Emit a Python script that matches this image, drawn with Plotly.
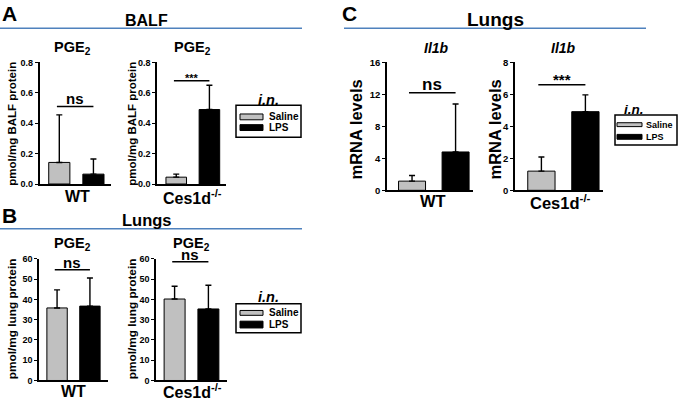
import plotly.graph_objects as go

# ---------------- data ----------------
groups = ["WT", "Ces1d<sup>-/-</sup>"]
treatments = ["Saline", "LPS"]

# Panel A: BALF PGE2 (pmol/mg BALF protein)
balf_saline_mean = [0.142, 0.045]
balf_saline_sd = [0.313, 0.020]
balf_lps_mean = [0.065, 0.490]
balf_lps_sd = [0.100, 0.160]
balf_sig = ["ns", "***"]
balf_sig_y = [0.51, 0.68]

# Panel B: Lung PGE2 (pmol/mg lung protein)
lung_saline_mean = [35.8, 40.2]
lung_saline_sd = [8.9, 6.3]
lung_lps_mean = [36.7, 35.3]
lung_lps_sd = [13.9, 11.7]
lung_sig = ["ns", "ns"]
lung_sig_y = [54.7, 58.6]

# Panel C: Lung Il1b mRNA levels
il1b_saline_mean = [1.15, 1.20]
il1b_saline_sd = [0.70, 0.88]
il1b_lps_mean = [4.80, 4.92]
il1b_lps_sd = [6.00, 1.05]
il1b_sig = ["ns", "***"]
il1b_sig_y = [12.2, 6.6]

balf_ticks = [0, 0.2, 0.4, 0.6, 0.8]
lung_ticks = [0, 10, 20, 30, 40, 50, 60]
il1b_wt_ticks = [0, 4, 8, 12, 16]
il1b_ko_ticks = [0, 2, 4, 6, 8]

# ---------------- layout helpers ----------------
W, H = 678, 403
FONT = "Liberation Sans, Arial, sans-serif"
GREY = "#c0c0c0"
BLUE = "#4f81bd"


def X(px):
    return px / W


def Y(py):
    return 1 - py / H


panels = [
    dict(mean=(balf_saline_mean[0], balf_lps_mean[0]), sd=(balf_saline_sd[0], balf_lps_sd[0]),
         sig=balf_sig[0], sig_y=balf_sig_y[0], ticks=balf_ticks, fmt=".1f",
         xdom=(39.5, 110.5), ydom=(58, 183), xr=(-0.58, 1.5), sigsize=15, ticksize=9),
    dict(mean=(balf_saline_mean[1], balf_lps_mean[1]), sd=(balf_saline_sd[1], balf_lps_sd[1]),
         sig=balf_sig[1], sig_y=balf_sig_y[1], ticks=balf_ticks, fmt=".1f",
         xdom=(157, 226), ydom=(58, 183), xr=(-0.58, 1.5), sigsize=11, ticksize=9),
    dict(mean=(lung_saline_mean[0], lung_lps_mean[0]), sd=(lung_saline_sd[0], lung_lps_sd[0]),
         sig=lung_sig[0], sig_y=lung_sig_y[0], ticks=lung_ticks, fmt="d",
         xdom=(39, 108), ydom=(260, 385), xr=(-0.55, 1.55), sigsize=15, ticksize=9),
    dict(mean=(lung_saline_mean[1], lung_lps_mean[1]), sd=(lung_saline_sd[1], lung_lps_sd[1]),
         sig=lung_sig[1], sig_y=lung_sig_y[1], ticks=lung_ticks, fmt="d",
         xdom=(156, 227), ydom=(260, 385), xr=(-0.55, 1.55), sigsize=15, ticksize=9),
    dict(mean=(il1b_saline_mean[0], il1b_lps_mean[0]), sd=(il1b_saline_sd[0], il1b_lps_sd[0]),
         sig=il1b_sig[0], sig_y=il1b_sig_y[0], ticks=il1b_wt_ticks, fmt="d",
         xdom=(387, 473), ydom=(58, 189.5), xr=(-0.575, 1.4), sigsize=17, ticksize=9.5),
    dict(mean=(il1b_saline_mean[1], il1b_lps_mean[1]), sd=(il1b_saline_sd[1], il1b_lps_sd[1]),
         sig=il1b_sig[1], sig_y=il1b_sig_y[1], ticks=il1b_ko_ticks, fmt="d",
         xdom=(515, 603), ydom=(58, 189.5), xr=(-0.6, 1.4), sigsize=15, ticksize=9.5),
]

fig = go.Figure()
layout = dict(
    width=W, height=H, margin=dict(l=0, r=0, t=0, b=0),
    plot_bgcolor="white", paper_bgcolor="white", showlegend=False,
    barmode="overlay", font=dict(family=FONT, color="black"),
)

for i, p in enumerate(panels):
    n = "" if i == 0 else str(i + 1)
    xa, ya = "x" + n, "y" + n
    for j, t in enumerate(treatments):
        fig.add_trace(go.Bar(
            x=[j], y=[p["mean"][j]], name=t, width=0.62,
            marker=dict(color=GREY if j == 0 else "black", line=dict(color="black", width=1)),
            error_y=dict(type="data", array=[p["sd"][j]], arrayminus=[0], symmetric=False,
                         color="black", thickness=1.4, width=3),
            xaxis=xa, yaxis=ya, showlegend=False,
        ))
    top = p["ticks"][-1]
    layout["xaxis" + n] = dict(
        domain=[X(p["xdom"][0]), X(p["xdom"][1])], range=list(p["xr"]), anchor=ya,
        showline=True, linecolor="black", linewidth=1.5, showticklabels=False,
        ticks="", showgrid=False, zeroline=False, fixedrange=True,
    )
    layout["yaxis" + n] = dict(
        domain=[Y(p["ydom"][1]), Y(p["ydom"][0])], range=[0, top], anchor=xa,
        showline=True, linecolor="black", linewidth=1.5, ticks="outside", ticklen=3,
        tickwidth=1.2, tickcolor="black", tickvals=p["ticks"], tickformat=p["fmt"],
        tickfont=dict(family=FONT, size=p["ticksize"], color="black", weight="bold"),
        showgrid=False, zeroline=False, fixedrange=True,
    )
    # significance bracket
    fig.add_shape(type="line", xref=xa, yref=ya, x0=-0.07, x1=1.0, y0=p["sig_y"], y1=p["sig_y"],
                  line=dict(color="black", width=1.5))
    fig.add_annotation(xref=xa, yref=ya, x=0.465, y=p["sig_y"], text=p["sig"], showarrow=False,
                       xanchor="center", yanchor="bottom", yshift=-3 if p["sig"] == "ns" else -5,
                       font=dict(family=FONT, size=p["sigsize"], weight="bold"))

fig.update_layout(**layout)


def text(px, py, s, size, angle=0, xanchor="center", italic=False):
    fig.add_annotation(xref="paper", yref="paper", x=X(px), y=Y(py), text=s, showarrow=False,
                       xanchor=xanchor, yanchor="middle", textangle=angle,
                       font=dict(family=FONT, size=size, weight="bold",
                                 style="italic" if italic else "normal", color="black"))


# panel letters and headers
text(9, 8, "A", 21)
text(146, 15, "BALF", 16)
text(9, 215, "B", 21)
text(147, 220, "Lungs", 16.5)
text(350, 8, "C", 21)
text(495, 14, "Lungs", 19)

for x0, x1, yy in [(0, 302, 23), (0, 302, 229), (344, 646, 23)]:
    fig.add_shape(type="line", xref="paper", yref="paper", x0=X(x0), x1=X(x1), y0=Y(yy), y1=Y(yy),
                  line=dict(color=BLUE, width=1.5))

# subplot titles
text(72, 43, "PGE<sub>2</sub>", 14.5)
text(192, 43, "PGE<sub>2</sub>", 14.5)
text(72, 245, "PGE<sub>2</sub>", 14.5)
text(191.5, 245, "PGE<sub>2</sub>", 14.5)
text(436, 43, "Il1b", 14, italic=True)
text(563, 43, "Il1b", 14, italic=True)

# y-axis titles
text(12, 121, "pmol/mg BALF protein", 11.5, angle=-90)
text(132, 121, "pmol/mg BALF protein", 11.5, angle=-90)
text(12, 322, "pmol/mg lung protein", 11.8, angle=-90)
text(132, 322, "pmol/mg lung protein", 11.8, angle=-90)
text(356, 127, "mRNA levels", 16.5, angle=-90)
text(495, 127, "mRNA levels", 16.5, angle=-90)

# group labels
text(77, 196, groups[0], 16)
text(192, 196, groups[1], 16)
text(73, 396, groups[0], 16)
text(192, 396, groups[1], 16)
text(433, 200, groups[0], 16.5)
text(560, 201, groups[1], 16.5)


# legends (i.n. = intranasal)
def legend(box, title_xy, title_size, sw_x, sw_y, lab_x, lab_size):
    x0, y0, x1, y1 = box
    fig.add_shape(type="rect", xref="paper", yref="paper", x0=X(x0), x1=X(x1), y0=Y(y1), y1=Y(y0),
                  line=dict(color="black", width=1.5), fillcolor="white")
    text(title_xy[0], title_xy[1], "i.n.", title_size, italic=True)
    for k, t in enumerate(treatments):
        ya0, ya1 = sw_y[k]
        fig.add_shape(type="rect", xref="paper", yref="paper", x0=X(sw_x[0]), x1=X(sw_x[1]),
                      y0=Y(ya1), y1=Y(ya0), fillcolor=GREY if k == 0 else "black",
                      line=dict(color="black", width=1))
        text(lab_x, (ya0 + ya1) / 2, t, lab_size, xanchor="left")


legend((236, 102, 301, 135), (268, 97), 14.5, (240, 263), [(111, 117), (122, 128)], 267, 10)
legend((236, 306, 301, 336), (268, 299), 14.5, (240, 263), [(313, 318), (324, 331)], 267, 10)
legend((615, 112, 677, 143), (634, 106), 13.5, (617, 642), [(120, 124), (132, 137)], 644, 9)

fig.write_html("out.html", config={"displayModeBar": False},
               post_script="document.body.style.margin='0';")
